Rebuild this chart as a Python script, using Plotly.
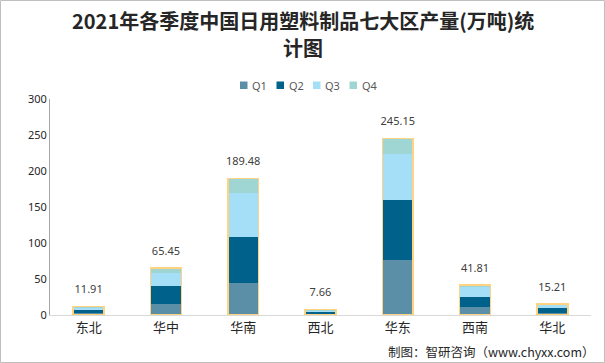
import plotly.graph_objects as go

regions = ["东北", "华中", "华南", "西北", "华东", "西南", "华北"]
q1 = [2.3, 15.7, 44.2, 1.5, 76.3, 11.5, 3.2]
q2 = [4.5, 25.0, 64.5, 3.2, 83.2, 12.9, 6.0]
q3 = [3.5, 17.6, 60.8, 2.0, 63.8, 14.4, 5.1]
q4 = [1.61, 7.15, 19.98, 0.96, 21.85, 3.01, 0.91]
totals = [11.91, 65.45, 189.48, 7.66, 245.15, 41.81, 15.21]
total_labels = ["11.91", "65.45", "189.48", "7.66", "245.15", "41.81", "15.21"]
series_names = ["Q1", "Q2", "Q3", "Q4"]
series_colors = ["#5B8FA8", "#00618A", "#A5DEF7", "#9FD6D4"]
title_lines = ["2021年各季度中国日用塑料制品七大区产量(万吨)统", "计图"]

W, H = 605, 363
ML, MR, MT, MB = 50, 14, 99, 48
PW, PH = W - ML - MR, H - MT - MB


def px_x(p):
    return (p - ML) / PW


def px_y(p):
    return (H - MB - p) / PH


fig = go.Figure()
for name, vals, col in zip(series_names, [q1, q2, q3, q4], series_colors):
    fig.add_trace(go.Bar(x=regions, y=vals, name=name, marker=dict(color=col, line=dict(width=0)),
                         hoverinfo="skip", showlegend=False))

# outline of whole stack
fig.add_trace(go.Bar(x=regions, y=totals, xaxis="x2", showlegend=False, hoverinfo="skip",
                     marker=dict(color="rgba(0,0,0,0)", line=dict(color="#FFD37F", width=1.5))))
# total labels
fig.add_trace(go.Scatter(x=regions, y=totals, xaxis="x2", mode="markers+text", text=total_labels,
                         textposition="top center", showlegend=False, hoverinfo="skip",
                         marker=dict(size=15, opacity=0),
                         textfont=dict(size=11, color="#404040", family="Noto Sans, sans-serif")))

# custom compact legend
shapes = []
annotations = []
for i, (name, col) in enumerate(zip(series_names, series_colors)):
    x0 = 240 + i * 36.5
    shapes.append(dict(type="rect", xref="paper", yref="paper",
                       x0=px_x(x0), x1=px_x(x0 + 7.5), y0=px_y(89), y1=px_y(81.5),
                       fillcolor=col, line=dict(width=0)))
    annotations.append(dict(text=name, xref="paper", yref="paper", x=px_x(x0 + 10), xanchor="left",
                            y=px_y(85.5), yanchor="middle", showarrow=False,
                            font=dict(size=11, color="#595959", family="Noto Sans, sans-serif")))

for line, yc in zip(title_lines, [20.5, 47]):
    annotations.append(dict(text=line, xref="paper", yref="paper", x=px_x(302.5), xanchor="center",
                            y=px_y(yc), yanchor="middle", showarrow=False,
                            font=dict(size=20, color="#262626", family="Noto Sans CJK SC, sans-serif",
                                      weight="bold")))
annotations.append(dict(text="制图：智研咨询（www.chyxx.com）", xref="paper", yref="paper",
                        x=px_x(597), xanchor="right", y=px_y(351), yanchor="middle", showarrow=False,
                        font=dict(size=12.5, color="#262626", family="Noto Sans CJK SC, sans-serif")))
shapes.append(dict(type="rect", xref="paper", yref="paper", x0=px_x(0.5), x1=px_x(604.5),
                   y0=px_y(362.5), y1=px_y(0.5), line=dict(color="#BFBFBF", width=1)))

fig.update_layout(
    width=W, height=H,
    paper_bgcolor="white", plot_bgcolor="white",
    barmode="stack", bargap=0.6,
    margin=dict(l=ML, r=MR, t=MT, b=MB),
    showlegend=False,
    xaxis=dict(showline=True, linecolor="#D9D9D9", linewidth=1, ticks="",
               tickfont=dict(size=13, color="#262626", family="Noto Sans CJK SC, sans-serif")),
    xaxis2=dict(overlaying="x", matches="x", showticklabels=False, showline=False, showgrid=False),
    yaxis=dict(range=[0, 300], dtick=50, showgrid=False, showline=True, linecolor="#A6A6A6",
               linewidth=1, ticks="", zeroline=False,
               tickfont=dict(size=11, color="#262626", family="Noto Sans, sans-serif")),
    annotations=annotations,
    shapes=shapes,
)

fig.write_html("out.html", config={"displayModeBar": False},
               post_script="document.body.style.margin='0';")
